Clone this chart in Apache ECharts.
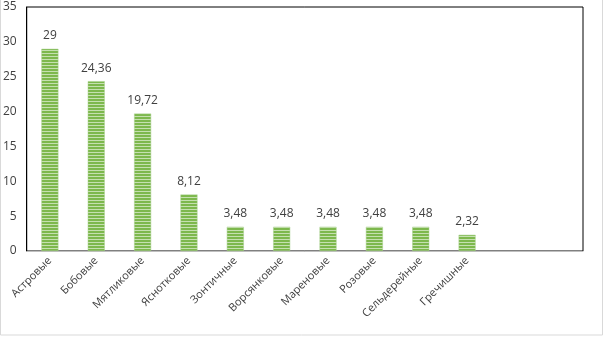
<!DOCTYPE html>
<html>
<head>
<meta charset="utf-8">
<script src="https://cdn.jsdelivr.net/npm/echarts@6/dist/echarts.min.js"></script>
<style>
  html, body { margin: 0; padding: 0; background: #fff; }
  #chart { width: 604px; height: 338px; }
</style>
</head>
<body>
<div id="chart"></div>
<script>
// данные диаграммы
const categories = ['Астровые', 'Бобовые', 'Мятликовые', 'Яснотковые', 'Зонтичные',
  'Ворсянковые', 'Мареновые', 'Розовые', 'Сельдерейные', 'Гречишные', '', ' '];
const values = [29, 24.36, 19.72, 8.12, 3.48, 3.48, 3.48, 3.48, 3.48, 2.32, null, null];
const yTicks = [0, 5, 10, 15, 20, 25, 30, 35];

// полосатая заливка столбцов
const makeStripes = () => {
  const c = document.createElement('canvas');
  c.width = 4;
  c.height = 3;
  const ctx = c.getContext('2d');
  ctx.fillStyle = '#c5e0b0';
  ctx.fillRect(0, 0, 4, 3);
  ctx.fillStyle = '#7db84d';
  ctx.fillRect(0, 0, 4, 2);
  return c;
};

const chart = echarts.init(document.getElementById('chart'));

chart.setOption({
  animation: false,
  backgroundColor: '#fff',
  textStyle: { fontFamily: 'Open Sans' },
  graphic: [{
    type: 'rect',
    shape: { x: 0.5, y: -1, width: 602, height: 336 },
    style: { fill: 'none', stroke: '#d9d9d9', lineWidth: 1 },
    silent: true
  }],
  grid: { left: 25, right: 21, top: 7, bottom: 87, show: true, borderColor: '#000', borderWidth: 1 },
  xAxis: {
    type: 'category',
    data: categories,
    axisTick: { show: false },
    axisLine: { lineStyle: { color: '#bfbfbf' } },
    axisLabel: { rotate: 45, color: '#404040', fontSize: 11, interval: 0, margin: 8 }
  },
  yAxis: {
    type: 'value',
    min: yTicks[0],
    max: yTicks[yTicks.length - 1],
    interval: 5,
    splitLine: { show: false },
    axisLine: { show: true, lineStyle: { color: '#000' } },
    axisTick: { show: false },
    axisLabel: { color: '#404040', fontSize: 12, margin: 10 }
  },
  series: [{
    type: 'bar',
    data: values,
    barWidth: 17,
    itemStyle: {
      color: { image: makeStripes(), repeat: 'repeat' },
      borderColor: '#a9d18e',
      borderWidth: 0.5
    },
    label: {
      show: true,
      position: 'top',
      distance: 7,
      color: '#404040',
      fontSize: 12,
      formatter: p => String(p.value).replace('.', ',')
    }
  }]
});
</script>
</body>
</html>
